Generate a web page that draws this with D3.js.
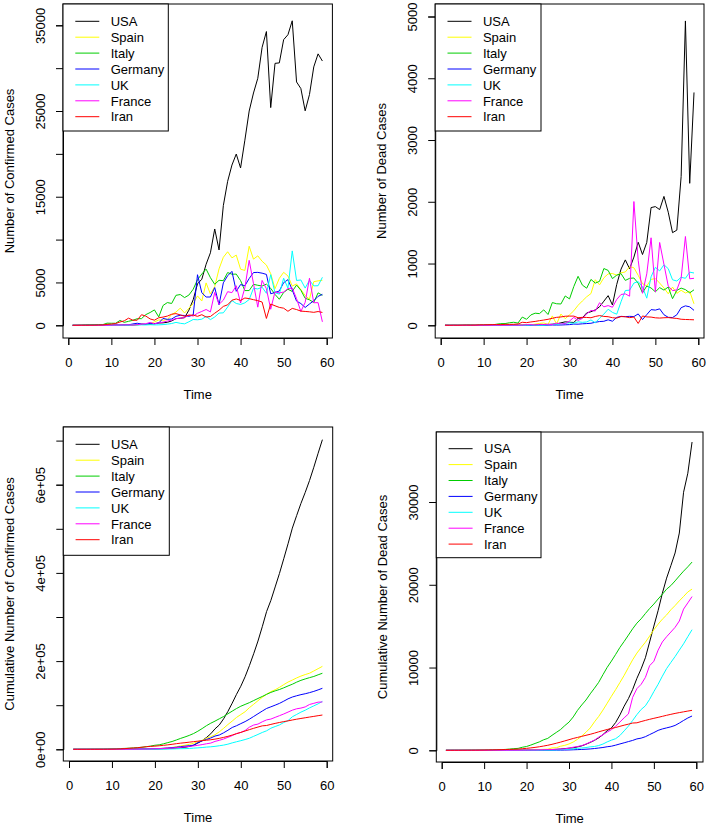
<!DOCTYPE html>
<html><head><meta charset="utf-8">
<script src="https://cdn.jsdelivr.net/npm/d3@7/dist/d3.min.js"></script>
<style>
body{margin:0;background:#fff}
svg text{font-family:"Liberation Sans",Arial,sans-serif;fill:#000}
</style>
</head><body>
<svg id="chart" width="708" height="825"></svg>
<script>
// ---------------- data ----------------
const days = [1,2,3,4,5,6,7,8,9,10,11,12,13,14,15,16,17,18,19,20,21,22,23,24,25,26,27,28,29,30,31,32,33,34,35,36,37,38,39,40,41,42,43,44,45,46,47,48,49,50,51,52,53,54,55,56,57,58,59];
const countries = ["USA","Spain","Italy","Germany","UK","France","Iran"];
const xTicks = [0,10,20,30,40,50,60];

// daily confirmed
const confUSA = [0,1,0,0,0,18,0,6,1,0,3,20,14,22,34,74,105,95,121,200,271,287,351,511,777,823,887,1766,2988,4835,5374,7123,8459,11236,8789,13963,16797,18695,19979,18360,21595,24998,27103,28819,32425,34272,25398,30561,30613,33323,33901,35527,28391,27620,25023,26922,30148,31667,30833];
const confSpain = [0,0,0,0,0,2,8,3,10,13,13,39,36,45,57,37,141,100,173,400,622,582,673,1259,1544,2000,1438,1987,2538,3431,2833,4946,3646,4517,6584,7937,8578,7871,8189,6549,6398,9222,7719,8102,7472,7026,6023,4273,5478,6180,5756,4576,4830,4167,3477,3045,5092,5183,5252];
const confItaly = [0,0,20,59,73,77,93,78,250,238,240,566,342,466,587,769,778,1247,1492,1797,977,2313,2651,2547,3497,3590,3233,3526,4207,5322,5986,6557,5560,4789,5249,5210,6153,5959,5974,5217,4050,4053,4782,4668,4585,4805,4316,3599,3039,3836,4204,3951,4694,4092,3153,2972,2667,3786,3493];
const confGermany = [0,0,0,0,0,0,2,4,5,9,51,33,38,52,160,239,156,107,237,157,271,802,693,733,1043,1174,1144,1042,1200,5900,3800,3300,3300,4400,2400,4954,5780,6294,3965,4751,4615,5453,6156,6174,6082,5936,3677,3834,4003,4974,5323,4133,2821,2537,2082,2486,2866,3380,3609];
const confUK = [0,0,0,0,4,0,0,2,0,5,3,13,4,11,34,30,48,43,67,48,52,83,134,208,342,232,171,407,676,643,714,1035,665,967,1427,1452,2129,2885,2546,2433,2619,3009,4324,4244,4450,3735,5903,3802,3634,5491,4344,8681,5233,5288,4342,5252,4603,4617,5599];
const confFrance = [0,0,0,0,0,0,0,2,4,20,19,43,30,61,21,73,138,190,336,177,286,372,495,591,780,829,911,1193,1079,1404,1617,1847,1559,3838,2446,2931,3922,3809,4611,2599,4376,7578,4861,2116,5233,4267,1873,3912,3777,3881,4286,4342,3114,1613,2673,5497,2633,2641,405];
const confIran = [2,3,13,10,15,18,34,44,106,143,205,385,523,835,586,591,1234,1076,743,595,881,958,1075,1289,1365,1209,1053,1178,1192,1046,1237,966,1028,1411,1762,2206,2389,2926,3076,2901,3186,3110,2987,2875,2715,800,2483,2274,2089,1997,1634,1972,1837,1657,1617,1574,1512,1606,1499];

// daily deaths
const deadUSA = [0,0,0,0,0,0,0,0,0,0,1,5,1,4,1,2,3,2,3,4,3,7,10,10,12,18,23,40,56,49,46,113,120,200,220,250,300,390,480,329,661,909,1059,915,1104,1344,1146,1342,1906,1922,1873,2087,1831,1500,1541,2408,4928,2299,3770];
const deadSpain = [0,0,0,0,0,0,0,0,0,0,0,0,0,1,1,1,2,5,7,11,7,19,30,37,15,152,21,182,107,169,235,324,394,462,514,738,655,769,832,838,812,849,864,950,932,809,674,637,743,757,683,605,510,619,517,567,523,551,348];
const deadItaly = [0,0,1,1,1,4,4,1,5,4,8,5,18,27,28,41,49,36,133,97,168,196,189,250,175,368,349,345,475,427,627,793,651,601,743,683,712,919,889,756,812,837,727,760,766,681,525,636,604,542,610,570,619,431,566,602,578,525,575];
const deadGermany = [0,0,0,0,0,0,0,0,0,0,0,0,0,0,0,0,0,0,0,2,0,1,2,1,3,5,4,5,8,11,20,18,24,28,33,49,61,65,89,66,128,145,140,145,141,184,92,173,254,246,266,171,129,126,170,285,315,299,242];
const deadUK = [0,0,0,0,0,0,0,0,0,0,0,0,0,0,0,1,0,1,0,0,3,0,2,1,11,14,20,16,33,40,33,56,48,54,87,41,115,181,260,209,180,381,563,569,684,708,621,439,786,938,881,980,917,737,717,778,761,861,847];
const deadFrance = [0,0,0,0,0,0,0,0,0,0,0,1,1,1,1,2,3,2,3,9,11,3,15,13,18,12,36,21,27,69,128,78,112,186,240,231,365,299,319,292,418,499,509,471,2004,1053,518,833,1417,541,1341,987,635,561,574,762,1438,753,761];
const deadIran = [2,0,2,1,3,4,3,4,7,8,9,11,12,11,15,15,16,21,49,43,54,63,75,85,97,113,129,135,147,149,149,123,129,127,122,143,157,144,139,123,117,141,138,124,134,30,151,136,133,121,117,122,125,117,111,98,94,92,89];

// cumulative confirmed
const cumConfUSA = [0,1,1,1,1,19,19,25,26,26,29,49,63,85,119,193,298,393,514,714,985,1272,1623,2134,2911,3734,4621,6387,9375,14210,19584,26707,35166,46402,55191,69154,85951,104646,124625,142985,164580,189578,216681,245500,277925,312197,337595,368156,398769,432092,465993,501520,529911,557531,582554,609476,639624,671291,702124];
const cumConfSpain = [0,0,0,0,0,2,10,13,23,36,49,88,124,169,226,263,404,504,677,1077,1699,2281,2954,4213,5757,7757,9195,11182,13720,17151,19984,24930,28576,33093,39677,47614,56192,64063,72252,78801,85199,94421,102140,110242,117714,124740,130763,135036,140514,146694,152450,157026,161856,166023,169500,172545,177637,182820,188072];
const cumConfItaly = [0,0,20,79,152,229,322,400,650,888,1128,1694,2036,2502,3089,3858,4636,5883,7375,9172,10149,12462,15113,17660,21157,24747,27980,31506,35713,41035,47021,53578,59138,63927,69176,74386,80539,86498,92472,97689,101739,105792,110574,115242,119827,124632,128948,132547,135586,139422,143626,147577,152271,156363,159516,162488,165155,168941,172434];
const cumConfGermany = [0,0,0,0,0,0,2,6,11,20,71,104,142,194,354,593,749,856,1093,1250,1521,2323,3016,3749,4792,5966,7110,8152,9352,15252,19052,22352,25652,30052,32452,37406,43186,49480,53445,58196,62811,68264,74420,80594,86676,92612,96289,100123,104126,109100,114423,118556,121377,123914,125996,128482,131348,134728,138337];
const cumConfUK = [9,9,9,9,13,13,13,15,15,20,23,36,40,51,85,115,163,206,273,321,373,456,590,798,1140,1372,1543,1950,2626,3269,3983,5018,5683,6650,8077,9529,11658,14543,17089,19522,22141,25150,29474,33718,38168,41903,47806,51608,55242,60733,65077,73758,78991,84279,88621,93873,98476,103093,108692];
const cumConfFrance = [0,0,0,0,0,0,0,2,6,26,45,88,118,179,200,273,411,601,937,1114,1400,1772,2267,2858,3638,4467,5378,6571,7650,9054,10671,12518,14077,17915,20361,23292,27214,31023,35634,38233,42609,50187,55048,57164,62397,66664,68537,72449,76226,80107,84393,88735,91849,93462,96135,101632,104265,106906,107311];
const cumConfIran = [2,5,18,28,43,61,95,139,245,388,593,978,1501,2336,2922,3513,4747,5823,6566,7161,8042,9000,10075,11364,12729,13938,14991,16169,17361,18407,19644,20610,21638,23049,24811,27017,29406,32332,35408,38309,41495,44605,47592,50467,53182,53982,56465,58739,60828,62825,64459,66431,68268,69925,71542,73116,74628,76234,77733];

// cumulative deaths
const cumDeadUSA = [0,0,0,0,0,0,0,0,0,0,1,6,7,11,12,14,17,19,22,26,29,36,46,56,68,86,109,149,205,254,300,413,533,733,953,1203,1503,1893,2373,2702,3363,4272,5331,6246,7350,8694,9840,11182,13088,15010,16883,18970,20801,22301,23842,26250,31178,33477,37247];
const cumDeadSpain = [0,0,0,0,0,0,0,0,0,0,0,0,0,1,2,3,5,10,17,28,35,54,84,121,136,288,309,491,598,767,1002,1326,1720,2182,2696,3434,4089,4858,5690,6528,7340,8189,9053,10003,10935,11744,12418,13055,13798,14555,15238,15843,16353,16972,17489,18056,18579,19130,19478];
const cumDeadItaly = [0,0,1,2,3,7,11,12,17,21,29,34,52,79,107,148,197,233,366,463,631,827,1016,1266,1441,1809,2158,2503,2978,3405,4032,4825,5476,6077,6820,7503,8215,9134,10023,10779,11591,12428,13155,13915,14681,15362,15887,16523,17127,17669,18279,18849,19468,19899,20465,21067,21645,22170,22745];
const cumDeadGermany = [0,0,0,0,0,0,0,0,0,0,0,0,0,0,0,0,0,0,0,2,2,3,5,6,9,14,18,23,31,42,62,80,104,132,165,214,275,340,429,495,623,768,908,1053,1194,1378,1470,1643,1897,2143,2409,2580,2709,2835,3005,3290,3605,3904,4146];
const cumDeadUK = [0,0,0,0,0,0,0,0,0,0,0,0,0,0,0,1,1,2,2,2,5,5,7,8,19,33,53,69,102,142,175,231,279,333,420,461,576,757,1017,1226,1406,1787,2350,2919,3603,4311,4932,5371,6157,7095,7976,8956,9873,10610,11327,12105,12866,13727,14574];
const cumDeadFrance = [0,0,0,0,0,0,0,0,0,0,0,1,2,3,4,6,9,11,14,23,34,37,52,65,83,95,131,152,179,248,376,454,566,752,992,1223,1588,1887,2206,2498,2916,3415,3924,4395,6399,7452,7970,8803,10220,10761,12102,13089,13724,14285,14859,15621,17059,17812,18573];
const cumDeadIran = [2,2,4,5,8,12,15,19,26,34,43,54,66,77,92,107,123,144,193,236,290,353,428,513,610,723,852,987,1134,1283,1432,1555,1684,1811,1933,2076,2233,2377,2516,2639,2756,2897,3035,3159,3293,3323,3474,3610,3743,3864,3981,4103,4228,4345,4456,4554,4648,4740,4829];

// axis ticks / labels
const yTicksP1 = [0,5000,10000,15000,20000,25000,30000,35000];
const yLabelsP1 = ["0","5000","","15000","","25000","","35000"];
const yTicksP2 = [0,1000,2000,3000,4000,5000];
const yLabelsP2 = ["0","1000","2000","3000","4000","5000"];
const yTicksP3 = [0,100000,200000,300000,400000,500000,600000,700000];
const yLabelsP3 = ["0e+00","","2e+05","","4e+05","","6e+05",""];
const yTicksP4 = [0,10000,20000,30000];
const yLabelsP4 = ["0","10000","20000","30000"];
const titles = ["Number of Confirmed Cases","Number of Dead Cases","Cumulative Number of Confirmed Cases","Cumulative Number of Dead Cases"];
const xTitle = "Time";

// ---------------- styling / layout ----------------
const colors = ["#000000","#FFFF00","#00CD00","#0000FF","#00FFFF","#FF00FF","#FF0000"];
const panels = [
  {series:[confUSA,confSpain,confItaly,confGermany,confUK,confFrance,confIran],
   box:{l:63,t:4,r:332.4,b:338}, xr:[68.3,326.7], yv:35000, yr:[325.3,25.3],
   ticks:yTicksP1, labels:yLabelsP1, title:titles[0], leg:{r:168.3,b:131,first:17.3}},
  {series:[deadUSA,deadSpain,deadItaly,deadGermany,deadUK,deadFrance,deadIran],
   box:{l:435.2,t:4,r:704,b:338}, xr:[440.7,698.3], yv:5000, yr:[325.3,16.5],
   ticks:yTicksP2, labels:yLabelsP2, title:titles[1], leg:{r:541,b:131,first:17.3}},
  {series:[cumConfUSA,cumConfSpain,cumConfItaly,cumConfGermany,cumConfUK,cumConfFrance,cumConfIran],
   box:{l:63.3,t:427,r:332.7,b:761}, xr:[69,326.7], yv:600000, yr:[749.3,484.7],
   ticks:yTicksP3, labels:yLabelsP3, title:titles[2], leg:{r:169.3,b:555.3,first:17.3}},
  {series:[cumDeadUSA,cumDeadSpain,cumDeadItaly,cumDeadGermany,cumDeadUK,cumDeadFrance,cumDeadIran],
   box:{l:436.3,t:432,r:703,b:762}, xr:[441.7,696.3], yv:30000, yr:[750.3,502],
   ticks:yTicksP4, labels:yLabelsP4, title:titles[3], leg:{r:541,b:557.7,first:16.7}}
];

const svg = d3.select("#chart");
const FS = 13;

panels.forEach(p => {
  const g = svg.append("g");
  const x = d3.scaleLinear().domain([0,60]).range(p.xr);
  const y = d3.scaleLinear().domain([0,p.yv]).range(p.yr);
  const B = p.box;

  const line = d3.line().x((d,i)=>x(days[i])).y(d=>y(d));
  p.series.forEach((s,k) => {
    g.append("path").attr("d", line(s)).attr("fill","none")
      .attr("stroke", colors[k]).attr("stroke-width",1).attr("stroke-linejoin","round");
  });

  const xa = g.append("g").attr("transform",`translate(0,${B.b})`)
    .call(d3.axisBottom(x).tickValues(xTicks).tickSizeOuter(0).tickSize(7).tickFormat(d3.format("d")));
  xa.selectAll("path,line").attr("stroke","#000");
  xa.selectAll("text").attr("y",28.7).attr("dy",0).attr("font-size",FS).style("font-family",'"Liberation Sans",Arial,sans-serif').attr("fill","#000");

  const ya = g.append("g").attr("transform",`translate(${B.l},0)`)
    .call(d3.axisLeft(y).tickValues(p.ticks).tickSizeOuter(0).tickSize(7)
      .tickFormat((d,i)=>p.labels[i]));
  ya.selectAll("path,line").attr("stroke","#000");
  ya.selectAll("text").attr("transform","rotate(-90)").attr("x",0).attr("y",-18).attr("dy",0)
    .attr("text-anchor","middle").attr("font-size",FS).style("font-family",'"Liberation Sans",Arial,sans-serif').attr("fill","#000");

  g.append("rect").attr("x",B.l).attr("y",B.t).attr("width",B.r-B.l).attr("height",B.b-B.t)
    .attr("fill","none").attr("stroke","#000").attr("stroke-width",1);

  g.append("text").attr("x",(B.l+B.r)/2).attr("y",B.b+61).attr("text-anchor","middle")
    .attr("font-size",FS).text(xTitle);
  g.append("text").attr("transform",`translate(${B.l-49.5},${(B.t+B.b)/2}) rotate(-90)`)
    .attr("text-anchor","middle").attr("font-size",FS).text(p.title);

  const L = p.leg;
  g.append("rect").attr("x",B.l).attr("y",B.t).attr("width",L.r-B.l).attr("height",L.b-B.t)
    .attr("fill","#fff").attr("stroke","#000").attr("stroke-width",1);
  countries.forEach((c,k) => {
    const cy = B.t + L.first + k*15.9;
    g.append("line").attr("x1",B.l+12.3).attr("x2",B.l+36.3).attr("y1",cy).attr("y2",cy)
      .attr("stroke",colors[k]).attr("stroke-width",1);
    g.append("text").attr("x",B.l+47.7).attr("y",cy+4.7).attr("font-size",FS).text(c);
  });
});
</script>
</body></html>
